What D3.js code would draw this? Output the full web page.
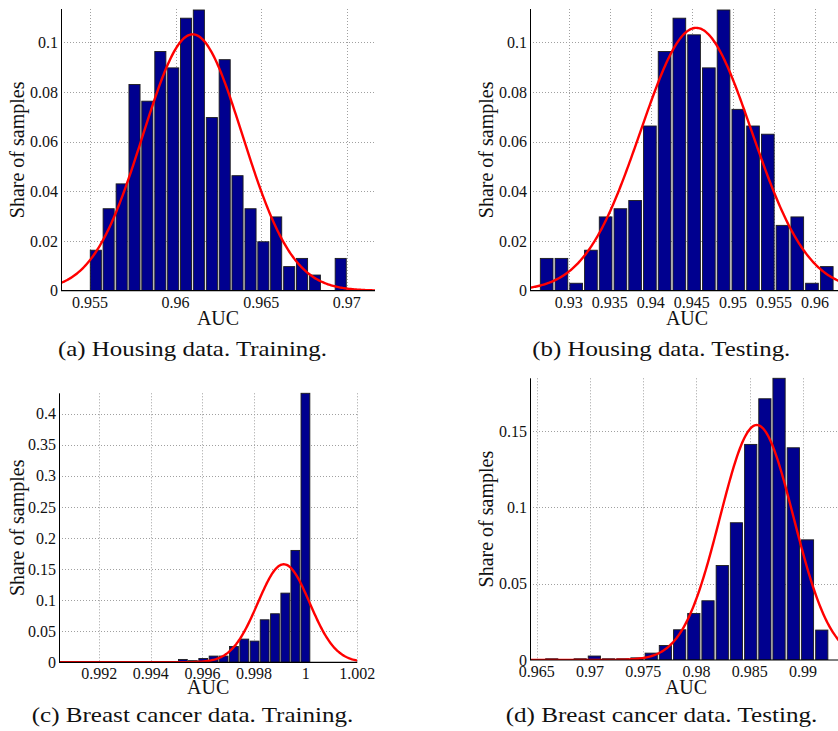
<!DOCTYPE html>
<html><head><meta charset="utf-8">
<script src="https://cdn.jsdelivr.net/npm/d3@7"></script>
<style>body{margin:0;background:#fff}svg{display:block}</style>
</head><body>
<svg id="chart" width="838" height="731"></svg>
<script>
// ---------- DATA ----------
// (a) Housing data. Training.
const aCenters = [0.95534,0.95609,0.95685,0.95760,0.95835,0.95911,0.95986,0.96061,0.96136,0.96212,0.96287,0.96362,0.96438,0.96513,0.96588,0.96664,0.96739,0.96814,0.96889,0.96965];
const aShares  = [0.0163,0.0330,0.0430,0.0830,0.0763,0.0963,0.0897,0.1097,0.1130,0.0697,0.0930,0.0463,0.0330,0.0197,0.0297,0.0097,0.0130,0.0063,0,0.0130];
const aXTicks  = [0.955,0.96,0.965,0.97];
const aYTicks  = [0,0.02,0.04,0.06,0.08,0.1];
const aFit     = [0.9610, 0.00291, 0.1032]; // mean, sd, peak

// (b) Housing data. Testing.
const bCenters = [0.92732,0.92912,0.93091,0.93271,0.93450,0.93630,0.93809,0.93989,0.94168,0.94348,0.94527,0.94707,0.94886,0.95066,0.95245,0.95425,0.95604,0.95784,0.95963,0.96143];
const bShares  = [0.0130,0.0130,0.0030,0.0163,0.0297,0.0330,0.0363,0.0663,0.0963,0.1097,0.1030,0.0897,0.1130,0.0730,0.0663,0.0630,0.0263,0.0297,0.0030,0.0097];
const bXTicks  = [0.93,0.935,0.94,0.945,0.95,0.955,0.96];
const bYTicks  = [0,0.02,0.04,0.06,0.08,0.1];
const bFit     = [0.94552, 0.00677, 0.1058];

// (c) Breast cancer data. Training.
const cCenters = [0.99246,0.99286,0.99325,0.99365,0.99405,0.99444,0.99484,0.99524,0.99563,0.99603,0.99643,0.99682,0.99722,0.99762,0.99802,0.99841,0.99881,0.99921,0.99960,0.99999];
const cShares  = [0,0,0,0,0,0,0,0.0046,0.0026,0.0062,0.0100,0.0100,0.0255,0.0373,0.0341,0.0684,0.0781,0.1113,0.1800,0.4328];
const cXTicks  = [0.992,0.994,0.996,0.998,1,1.002];
const cYTicks  = [0,0.05,0.1,0.15,0.2,0.25,0.3,0.35,0.4];
const cFit     = [0.99915, 0.001004, 0.1577];

// (d) Breast cancer data. Testing.
const dCenters = [0.96641,0.96774,0.96908,0.97041,0.97175,0.97308,0.97441,0.97575,0.97708,0.97842,0.97975,0.98108,0.98242,0.98375,0.98509,0.98642,0.98775,0.98909,0.99042,0.99176];
const dShares  = [0.0008,0,0.0008,0.0026,0.0008,0.0008,0.0014,0.0045,0.0095,0.0198,0.0305,0.0388,0.0619,0.0899,0.1412,0.1711,0.1845,0.1390,0.0787,0.0196];
const dXTicks  = [0.965,0.97,0.975,0.98,0.985,0.99];
const dYTicks  = [0,0.05,0.1,0.15];
const dFit     = [0.98566, 0.003458, 0.1539];

const captions = ["(a) Housing data. Training.","(b) Housing data. Testing.","(c) Breast cancer data. Training.","(d) Breast cancer data. Testing."];

// ---------- LAYOUT ----------
const panels = [
  {centers:aCenters, shares:aShares, xt:aXTicks, yt:aYTicks, fit:aFit, cap:captions[0],
   left:61, right:375, top:9, bottom:290.7, xd:[0.953305,0.971654], yd:[0,0.1134], bw:0.000753,
   ylabX:17, aucY:325, capX:58, capW:269, capY:356},
  {centers:bCenters, shares:bShares, xt:bXTicks, yt:bYTicks, fit:bFit, cap:captions[1],
   left:530, right:844, top:9, bottom:290.7, xd:[0.92529,0.96353], yd:[0,0.1134], bw:0.001795,
   ylabX:486, aucY:325, capX:532.3, capW:258, capY:356},
  {centers:cCenters, shares:cShares, xt:cXTicks, yt:cYTicks, fit:cFit, cap:captions[2],
   left:59, right:357.3, top:393.3, bottom:662.3, xd:[0.99044,1.002], yd:[0,0.4328], bw:0.000397,
   ylabX:17, aucY:694, capX:31.7, capW:321.7, capY:722},
  {centers:dCenters, shares:dShares, xt:dXTicks, yt:dYTicks, fit:dFit, cap:captions[3],
   left:530, right:842, top:378.3, bottom:660, xd:[0.96437,0.99366], yd:[0,0.1845], bw:0.001334,
   ylabX:486, aucY:694, capX:505.7, capW:311.6, capY:722}
];

const svg = d3.select("#chart");
const serif = "'Liberation Serif','Times New Roman',serif";
const fmt = v => String(+v.toFixed(4));

panels.forEach((p, i) => {
  const x = d3.scaleLinear().domain(p.xd).range([p.left, p.right]);
  const y = d3.scaleLinear().domain(p.yd).range([p.bottom, p.top]);
  const g = svg.append("g");

  const clipId = "clip" + i;
  svg.append("clipPath").attr("id", clipId).append("rect")
    .attr("x", p.left).attr("y", p.top - 2).attr("width", p.right - p.left).attr("height", p.bottom - p.top + 2);

  // grid
  const grid = g.append("g").attr("stroke", "#a0a0a0").attr("stroke-width", 1).attr("stroke-dasharray", "1,2");
  grid.selectAll(".gx").data(p.xt).join("line")
    .attr("x1", d => Math.round(x(d)) + 0.5).attr("x2", d => Math.round(x(d)) + 0.5)
    .attr("y1", p.top).attr("y2", p.bottom);
  grid.selectAll(".gy").data(p.yt.filter(d => d > 0)).join("line")
    .attr("y1", d => Math.round(y(d)) + 0.5).attr("y2", d => Math.round(y(d)) + 0.5)
    .attr("x1", p.left).attr("x2", p.right);

  // bars
  const bars = p.centers.map((c, k) => ({c, v: p.shares[k]})).filter(d => d.v > 0);
  g.append("g").attr("clip-path", `url(#${clipId})`)
    .selectAll("rect").data(bars).join("rect")
    .attr("x", d => x(d.c - p.bw * 0.43))
    .attr("width", d => x(d.c + p.bw * 0.43) - x(d.c - p.bw * 0.43))
    .attr("y", d => y(d.v))
    .attr("height", d => y(0) - y(d.v))
    .attr("fill", "#00008f").attr("stroke", "#1c1c1c").attr("stroke-width", 0.9);

  // fitted normal curve
  const [mu, sd, peak] = p.fit;
  const xs = d3.range(0, 301).map(k => p.xd[0] + (p.xd[1] - p.xd[0]) * k / 300);
  const line = d3.line().x(d => x(d)).y(d => y(peak * Math.exp(-((d - mu) ** 2) / (2 * sd * sd))));
  g.append("path").attr("clip-path", `url(#${clipId})`).datum(xs).attr("d", line)
    .attr("fill", "none").attr("stroke", "#ff0000").attr("stroke-width", 2.4);

  // axes lines
  g.append("line").attr("x1", p.left + 0.5).attr("x2", p.left + 0.5).attr("y1", p.top).attr("y2", p.bottom)
    .attr("stroke", "#000").attr("stroke-width", 1);
  g.append("line").attr("x1", p.left).attr("x2", p.right).attr("y1", p.bottom).attr("y2", p.bottom)
    .attr("stroke", "#000").attr("stroke-width", 1.2);

  // tick labels
  g.selectAll(".xl").data(p.xt).join("text")
    .attr("x", d => x(d)).attr("y", p.bottom + 17)
    .attr("text-anchor", "middle").attr("font-family", serif).attr("font-size", 16).attr("fill", "#111")
    .text(fmt);
  g.selectAll(".yl").data(p.yt).join("text")
    .attr("x", p.left - 3).attr("y", d => y(d)).attr("dy", "0.35em")
    .attr("text-anchor", "end").attr("font-family", serif).attr("font-size", 16).attr("fill", "#111")
    .text(fmt);

  // axis titles
  g.append("text").attr("x", (p.left + p.right) / 2).attr("y", p.aucY)
    .attr("text-anchor", "middle").attr("font-family", serif).attr("font-size", 20).attr("fill", "#111")
    .text("AUC");
  g.append("text").attr("transform", `translate(${p.ylabX},${(p.top + p.bottom) / 2}) rotate(-90)`)
    .attr("text-anchor", "middle").attr("dominant-baseline", "central")
    .attr("font-family", serif).attr("font-size", 20).attr("fill", "#111")
    .text("Share of samples");

  // caption
  g.append("text").attr("x", p.capX).attr("y", p.capY)
    .attr("font-family", serif).attr("font-size", 21).attr("fill", "#111")
    .attr("textLength", p.capW).attr("lengthAdjust", "spacingAndGlyphs")
    .text(p.cap);
});
</script>
</body></html>
